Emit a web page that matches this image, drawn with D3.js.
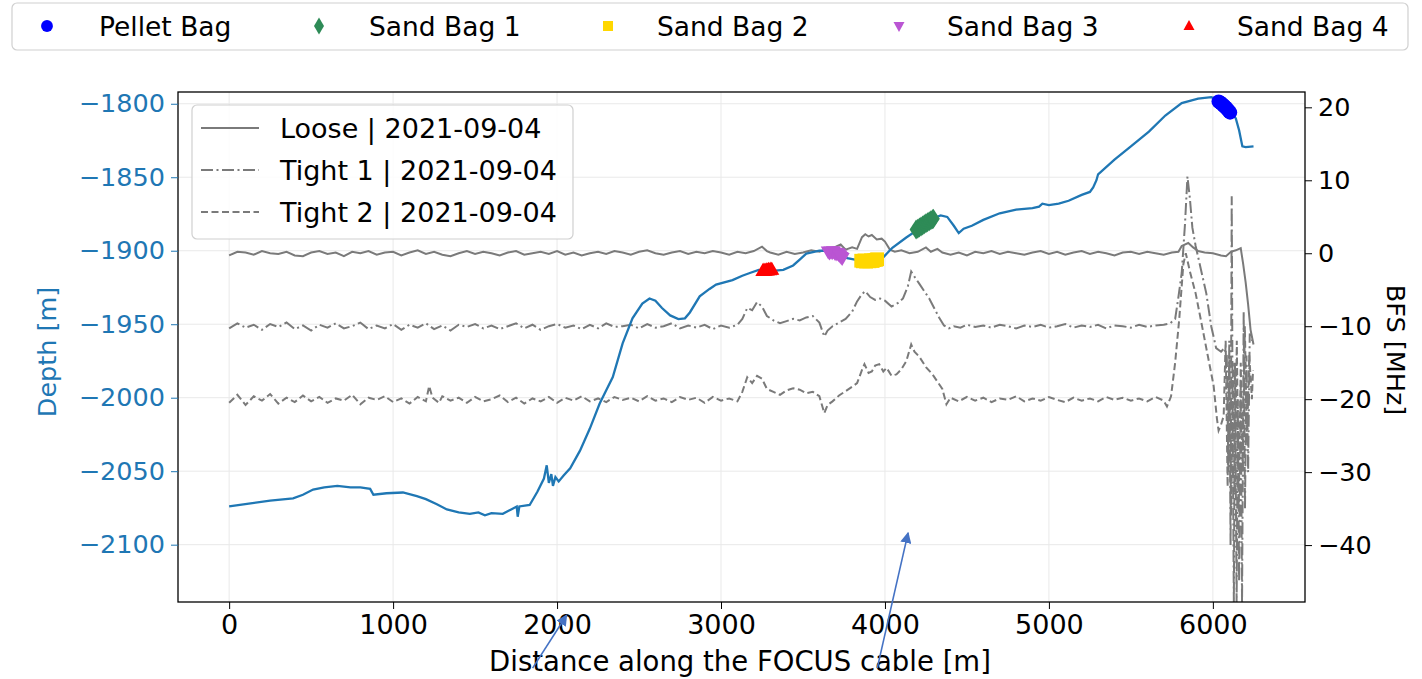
<!DOCTYPE html>
<html>
<head>
<meta charset="utf-8">
<script src="https://cdn.jsdelivr.net/npm/d3@7"></script>
<style>
  html, body { margin: 0; padding: 0; background: #fff; }
  svg { display: block; font-family: "DejaVu Sans", sans-serif; }
</style>
</head>
<body>
<svg id="chart" width="1422" height="679"></svg>
<script>
// ---------------- DATA ----------------
const xTicks = [0, 1000, 2000, 3000, 4000, 5000, 6000];
const depthTicks = [-1800, -1850, -1900, -1950, -2000, -2050, -2100];
const bfsTicks = [20, 10, 0, -10, -20, -30, -40];

// Depth profile of the cable [distance m, depth m]
const depthProfile = [
  [0,-2074],[120,-2072],[250,-2070],[390,-2068.5],[450,-2066],[512,-2062.5],[580,-2061],[660,-2060],
  [740,-2061],[800,-2061],[860,-2062],[880,-2066],[960,-2065],[1060,-2064.5],[1145,-2067],[1200,-2069],
  [1267,-2072.5],[1328,-2076],[1400,-2078],[1468,-2079],[1520,-2078],[1560,-2080],[1600,-2078.5],[1669,-2079],
  [1720,-2076],[1754,-2074],[1760,-2081],[1770,-2074],[1833,-2073],[1880,-2064],[1920,-2055],
  [1937,-2046],[1950,-2058],[1965,-2052],[1975,-2060],[1990,-2054],[2010,-2057],[2040,-2053],[2080,-2048],
  [2140,-2036],[2200,-2021],[2260,-2004],[2300,-1995],[2340,-1986],[2400,-1963],[2460,-1946],[2520,-1936],
  [2564,-1932.5],[2600,-1934],[2640,-1939],[2690,-1944],[2740,-1946.5],[2780,-1946],[2810,-1942],[2870,-1931],
  [2930,-1926],[2970,-1923],[3070,-1920],[3130,-1917],[3180,-1915],[3230,-1913],[3280,-1914],[3330,-1913.5],
  [3380,-1913],[3440,-1910],[3480,-1906],[3520,-1902],[3560,-1901],[3600,-1900],[3680,-1900],[3720,-1902],
  [3770,-1905],[3840,-1906.5],[3920,-1906],[3985,-1905],[4045,-1898],[4130,-1891],[4210,-1885],[4290,-1878],
  [4340,-1876],[4380,-1877],[4420,-1883],[4450,-1888],[4480,-1885],[4530,-1883],[4600,-1879],[4700,-1874.5],
  [4800,-1872],[4900,-1871],[4940,-1870],[4960,-1868],[5000,-1869],[5060,-1868],[5120,-1866],[5200,-1862],
  [5250,-1860],[5270,-1857],[5290,-1852],[5300,-1848],[5400,-1838],[5500,-1829],[5610,-1819],[5710,-1808],
  [5810,-1799.5],[5910,-1796.5],[5990,-1795.5],[6050,-1798],[6100,-1803],[6140,-1810],[6160,-1818],[6180,-1829],
  [6200,-1829.5],[6248,-1829]
];

// Bag positions [distance m, depth m]
const pelletBag = [[6035,-1798.5],[6042,-1799],[6049,-1799.6],[6056,-1800.2],[6063,-1800.9],[6070,-1801.6],
  [6077,-1802.4],[6084,-1803.2],[6091,-1804.1],[6098,-1805],[6105,-1806]];
const sandBag1 = [[4190,-1885.5],[4200,-1885],[4210,-1884.2],[4220,-1883.5],[4230,-1882.8],[4240,-1882],
  [4250,-1881.3],[4260,-1880.6],[4270,-1879.9],[4280,-1879.2],[4290,-1878.5],[4295,-1878.2]];
const sandBag2 = [[3855,-1906.8],[3865,-1907.2],[3875,-1906.6],[3885,-1907.4],[3895,-1906.9],[3905,-1907.2],
  [3915,-1906.5],[3925,-1907],[3935,-1906.4],[3945,-1906.2],[3952,-1905.8]];
const sandBag3 = [[3654,-1900.5],[3662,-1901.2],[3670,-1900.6],[3678,-1901],[3686,-1900.4],[3694,-1901.3],
  [3702,-1901.8],[3710,-1901.5],[3718,-1902.4],[3726,-1903.2],[3733,-1904.2],[3739,-1905]];
const sandBag4 = [[3255,-1913.8],[3262,-1913.4],[3269,-1913.6],[3276,-1913.2],[3283,-1913.4],[3290,-1913],
  [3297,-1913.2],[3304,-1912.8],[3310,-1913]];

// BFS traces [distance m, BFS MHz]
const looseBFS = [
  [0,-0.3],[50,0.2],[100,0.1],[150,-0.2],[200,0.3],[250,0.0],[300,-0.1],[350,0.2],[400,-0.3],[450,-0.4],
  [500,0.1],[550,0.3],[600,-0.1],[650,0.1],[700,-0.4],[750,0.2],[800,0.0],[850,0.3],[900,-0.2],[950,0.1],
  [1000,0.2],[1050,-0.3],[1100,0.1],[1150,0.4],[1200,-0.1],[1250,0.2],[1300,-0.2],[1350,-0.4],[1400,0.0],
  [1450,0.3],[1500,-0.1],[1550,0.2],[1600,0.0],[1650,-0.3],[1700,0.1],[1750,0.3],[1800,-0.2],[1850,0.0],
  [1900,0.2],[1950,-0.1],[2000,0.3],[2050,-0.2],[2100,0.1],[2150,-0.3],[2200,0.0],[2250,0.2],[2300,-0.1],
  [2350,0.3],[2400,0.1],[2450,-0.2],[2500,0.2],[2550,0.4],[2600,0.0],[2650,-0.2],[2700,0.1],[2750,0.3],
  [2800,-0.1],[2850,0.2],[2900,0.0],[2950,0.3],[3000,0.1],[3050,-0.2],[3100,0.2],[3150,0.0],[3200,0.3],
  [3250,0.9],[3280,0.3],[3300,0.1],[3350,-0.2],[3400,0.2],[3450,-0.1],[3500,0.1],[3550,0.4],[3600,0.2],
  [3650,0.6],[3700,0.9],[3730,1.2],[3760,0.5],[3800,0.8],[3830,0.6],[3860,2.2],[3880,2.6],[3900,2.3],
  [3920,2.5],[3950,1.9],[3980,2.0],[4000,1.6],[4030,0.5],[4060,0.2],[4100,0.4],[4150,0.0],[4200,0.2],
  [4250,0.8],[4280,0.2],[4320,0.6],[4350,0.1],[4400,-0.2],[4450,0.1],[4500,-0.3],[4550,0.2],[4600,0.0],
  [4650,0.3],[4700,-0.1],[4750,0.2],[4800,0.0],[4850,-0.2],[4900,0.1],[4950,0.3],[5000,-0.1],[5050,0.2],
  [5100,-0.2],[5150,0.1],[5200,0.3],[5250,-0.1],[5300,0.2],[5350,0.0],[5400,-0.3],[5450,0.1],[5500,0.2],
  [5550,-0.1],[5600,0.2],[5650,0.0],[5700,-0.2],[5750,0.1],[5790,0.2],[5810,1.0],[5850,1.4],[5880,0.8],
  [5910,0.3],[5950,0.1],[6000,0.0],[6050,-0.3],[6080,-0.4],[6110,0.2],[6140,0.4],[6170,0.7],[6185,-1.5],
  [6200,-4],[6215,-7],[6230,-10.5],[6248,-12.5]
];
const tight1BFS = [
  [0,-10.3],[50,-9.6],[100,-10.2],[150,-9.8],[200,-10.5],[250,-9.7],[300,-10.1],[350,-9.5],[400,-10.4],
  [450,-9.9],[500,-10.6],[550,-9.8],[600,-10.2],[650,-9.6],[700,-10.3],[750,-10.0],[800,-9.5],[850,-10.4],
  [900,-9.9],[950,-10.3],[1000,-9.7],[1050,-10.5],[1100,-9.8],[1150,-10.2],[1200,-9.6],[1250,-10.4],
  [1300,-9.9],[1350,-10.6],[1400,-9.8],[1450,-10.1],[1500,-9.7],[1550,-10.3],[1600,-9.9],[1650,-10.4],
  [1700,-10.0],[1750,-9.6],[1800,-10.3],[1850,-9.8],[1900,-10.5],[1950,-10.0],[2000,-9.7],[2050,-10.2],
  [2100,-9.9],[2150,-10.4],[2200,-9.8],[2250,-10.3],[2300,-9.6],[2350,-10.1],[2400,-10.0],[2450,-9.8],
  [2500,-10.3],[2550,-9.7],[2600,-10.2],[2650,-10.0],[2700,-9.6],[2750,-10.3],[2800,-9.9],[2850,-10.2],
  [2900,-9.8],[2950,-10.4],[3000,-9.9],[3050,-10.2],[3100,-9.8],[3130,-9.0],[3160,-7.5],[3190,-7.8],
  [3220,-6.7],[3250,-7.3],[3280,-8.6],[3320,-9.2],[3360,-9.6],[3400,-9.3],[3440,-9.0],[3480,-9.2],
  [3520,-8.8],[3560,-8.6],[3600,-9.5],[3630,-11.4],[3650,-10.6],[3680,-10.0],[3720,-9.5],[3760,-9.0],
  [3800,-8.0],[3830,-6.6],[3860,-5.6],[3880,-5.2],[3910,-6.0],[3940,-6.4],[3970,-6.2],[4000,-6.5],
  [4040,-7.3],[4080,-6.8],[4110,-6.2],[4140,-4.5],[4160,-2.5],[4180,-3.2],[4210,-4.2],[4240,-5.2],
  [4270,-6.2],[4300,-7.5],[4330,-8.8],[4360,-9.9],[4390,-10.3],[4420,-10.0],[4460,-10.2],[4500,-9.8],
  [4550,-10.1],[4600,-9.9],[4650,-10.2],[4700,-9.8],[4750,-10.0],[4800,-10.3],[4850,-9.9],[4900,-10.1],
  [4950,-9.8],[5000,-10.2],[5050,-10.0],[5100,-9.7],[5150,-10.2],[5200,-9.9],[5250,-10.1],[5300,-9.8],
  [5350,-10.3],[5400,-9.9],[5450,-10.0],[5500,-10.2],[5550,-9.8],[5600,-10.1],[5650,-9.9],[5700,-9.8],
  [5740,-9.6],[5770,-9.0],[5790,-6.0],[5810,-2.7],[5830,4.0],[5845,10.5],[5860,7.5],[5875,3.5],[5895,1.0],
  [5915,-1.0],[5940,-3.5],[5960,-5.5],[5990,-10.0],[6020,-13.0],[6050,-13.5],[6070,-13.0],[6085,-14],
  [6095,-30],[6100,-12],[6108,-40],[6115,7.8],[6120,-20],[6128,-48],[6135,-15],[6145,-48],[6152,-20],
  [6160,-45],[6170,-18],[6178,-48],[6188,-8],[6196,-35],[6205,-14],[6215,-30],[6225,-11],[6240,-12]
];
const tight2BFS = [
  [0,-20.5],[50,-19.4],[100,-20.8],[150,-19.6],[200,-20.2],[250,-19.3],[300,-20.6],[350,-19.8],[400,-20.4],
  [450,-19.5],[500,-20.3],[550,-19.7],[600,-20.5],[650,-19.9],[700,-20.2],[750,-19.4],[800,-20.7],[850,-19.8],
  [900,-20.1],[950,-19.6],[1000,-20.4],[1050,-19.9],[1100,-20.6],[1150,-19.7],[1200,-20.3],[1220,-18.2],
  [1240,-19.8],[1280,-20.5],[1300,-19.6],[1350,-20.2],[1400,-19.8],[1450,-20.5],[1500,-19.7],[1550,-20.3],
  [1600,-20.0],[1650,-19.5],[1700,-20.4],[1750,-19.8],[1800,-20.6],[1850,-19.9],[1900,-20.3],[1950,-19.7],
  [2000,-20.5],[2050,-19.8],[2100,-20.2],[2150,-19.6],[2200,-20.3],[2250,-19.9],[2300,-20.4],[2350,-19.7],
  [2400,-20.1],[2450,-19.8],[2500,-20.3],[2550,-19.6],[2600,-20.2],[2650,-19.9],[2700,-20.4],[2750,-19.7],
  [2800,-20.1],[2850,-19.8],[2900,-20.5],[2950,-19.7],[3000,-20.2],[3050,-19.9],[3100,-20.3],[3130,-19.0],
  [3160,-17.0],[3190,-17.8],[3220,-16.8],[3250,-17.2],[3280,-18.6],[3320,-19.0],[3360,-19.4],[3400,-18.8],
  [3440,-18.5],[3480,-18.7],[3520,-19.2],[3560,-19.0],[3600,-19.6],[3630,-21.9],[3650,-20.8],[3680,-20.3],
  [3720,-19.5],[3760,-18.9],[3800,-18.3],[3830,-17.8],[3860,-16.0],[3875,-15.2],[3900,-16.4],[3920,-16.2],
  [3940,-15.4],[3965,-15.2],[3990,-16.2],[4010,-15.7],[4040,-16.8],[4070,-16.6],[4100,-15.9],[4130,-14.8],
  [4160,-12.5],[4180,-13.5],[4210,-14.2],[4250,-15.6],[4290,-16.6],[4320,-17.6],[4350,-18.6],[4375,-20.7],
  [4400,-19.8],[4450,-20.3],[4500,-19.7],[4550,-20.2],[4600,-19.8],[4650,-20.4],[4700,-19.9],[4750,-20.1],
  [4800,-19.6],[4850,-20.3],[4900,-19.9],[4950,-20.2],[5000,-19.7],[5050,-20.1],[5100,-20.4],[5150,-19.8],
  [5200,-20.2],[5250,-19.9],[5300,-20.3],[5350,-19.7],[5400,-20.1],[5450,-19.8],[5500,-20.2],[5550,-19.9],
  [5600,-20.3],[5650,-19.7],[5700,-20.2],[5720,-21.0],[5745,-19.6],[5770,-15.0],[5795,-9.0],[5820,-1.5],
  [5835,0.0],[5860,-2.5],[5895,-5.5],[5930,-9.5],[5960,-13.0],[6005,-18.2],[6025,-22.7],[6035,-24.3],
  [6050,-23.5],[6066,-22.3],[6078,-12],[6090,-32],[6100,-14],[6112,-36],[6122,-15],[6135,-33],[6146,-12],
  [6158,-35],[6170,-15],[6182,-30],[6195,-10],[6208,-26],[6222,-14],[6238,-20],[6245,-16]
];

const bagNames = ["Pellet Bag", "Sand Bag 1", "Sand Bag 2", "Sand Bag 3", "Sand Bag 4"];
const bfsNames = ["Loose | 2021-09-04", "Tight 1 | 2021-09-04", "Tight 2 | 2021-09-04"];

// annotation arrows: [tailDist, tailDepth, headDist, headDepth]
const arrows = [[1851, -2184, 2058, -2148], [3953, -2184, 4141, -2092]];

// ---------------- CHART ----------------
const svg = d3.select("#chart");
const L = 178, R = 1305, T = 92, B = 602;

const x = d3.scaleLinear().domain([-312, 6562]).range([L, R]);
const yL = d3.scaleLinear().domain([-2139, -1792]).range([B, T]);
const yR = d3.scaleLinear().domain([-47.8, 22.1]).range([B, T]);

const blue = "#1f77b4";
const grayC = "#7a7a7a";

svg.append("defs").append("clipPath").attr("id", "clip")
  .append("rect").attr("x", L).attr("y", T).attr("width", R - L).attr("height", B - T);

// grid
const grid = svg.append("g");
grid.selectAll(".gx").data(xTicks).join("line")
  .attr("x1", d => x(d)).attr("x2", d => x(d)).attr("y1", T).attr("y2", B)
  .attr("stroke", "#e9e9e9").attr("stroke-width", 1);
grid.selectAll(".gy").data(depthTicks).join("line")
  .attr("y1", d => yL(d)).attr("y2", d => yL(d)).attr("x1", L).attr("x2", R)
  .attr("stroke", "#e9e9e9").attr("stroke-width", 1);

// BFS lines
const plot = svg.append("g").attr("clip-path", "url(#clip)");
const lineR = d3.line().x(d => x(d[0])).y(d => yR(d[1]));
const bfsSeries = [
  {data: looseBFS, dash: null},
  {data: tight1BFS, dash: "12,3.5,2,3.5"},
  {data: tight2BFS, dash: "7,3.5"}
];
bfsSeries.forEach(s => {
  plot.append("path").attr("d", lineR(s.data)).attr("fill", "none")
    .attr("stroke", grayC).attr("stroke-width", 2)
    .attr("stroke-dasharray", s.dash);
});

// depth line
const lineL = d3.line().x(d => x(d[0])).y(d => yL(d[1]));
plot.append("path").attr("d", lineL(depthProfile)).attr("fill", "none")
  .attr("stroke", blue).attr("stroke-width", 2.3);

// markers
function thinDiamond(w, h) { return `M0,${-h}L${w},0L0,${h}L${-w},0Z`; }
const markerDefs = [
  {data: pelletBag, color: "#0000ff", path: d3.symbol(d3.symbolCircle, 160)()},
  {data: sandBag1, color: "#2e8b57", path: thinDiamond(6.5, 10)},
  {data: sandBag2, color: "#ffd700", path: d3.symbol(d3.symbolSquare, 190)()},
  {data: sandBag3, color: "#ba55d3", path: "M-7.5,-5L7.5,-5L0,8Z"},
  {data: sandBag4, color: "#ff0000", path: "M-7.5,5L7.5,5L0,-8Z"}
];
markerDefs.forEach(m => {
  plot.append("g").selectAll("path").data(m.data).join("path")
    .attr("d", m.path).attr("fill", m.color)
    .attr("transform", d => `translate(${x(d[0])},${yL(d[1])})`);
});

// frame
svg.append("rect").attr("x", L).attr("y", T).attr("width", R - L).attr("height", B - T)
  .attr("fill", "none").attr("stroke", "#000").attr("stroke-width", 1.3);

// axes
const fmt = d3.format("");
const axB = svg.append("g").attr("transform", `translate(0,${B})`)
  .call(d3.axisBottom(x).tickValues(xTicks).tickSize(7).tickPadding(6).tickFormat(fmt));
const axL = svg.append("g").attr("transform", `translate(${L},0)`)
  .call(d3.axisLeft(yL).tickValues(depthTicks).tickSize(7).tickPadding(6).tickFormat(fmt));
const axR = svg.append("g").attr("transform", `translate(${R},0)`)
  .call(d3.axisRight(yR).tickValues(bfsTicks).tickSize(7).tickPadding(6).tickFormat(fmt));
[axB, axL, axR].forEach(a => {
  a.select(".domain").remove();
  a.selectAll("text").attr("font-size", 25.5).attr("font-family", "DejaVu Sans");
});
axB.selectAll("text").attr("font-size", 27);
axB.selectAll("line").attr("stroke", "#000");
axB.selectAll("text").attr("fill", "#000");
axL.selectAll("line").attr("stroke", blue);
axL.selectAll("text").attr("fill", blue);
axR.selectAll("line").attr("stroke", "#000");
axR.selectAll("text").attr("fill", "#000");

// axis labels
svg.append("text").attr("x", 740).attr("y", 671).attr("text-anchor", "middle")
  .attr("font-size", 27.5).attr("fill", "#000").text("Distance along the FOCUS cable [m]");
svg.append("text").attr("transform", `translate(56,${(T + B) / 2 + 5}) rotate(-90)`)
  .attr("text-anchor", "middle").attr("font-size", 25.5).attr("fill", blue).text("Depth [m]");
svg.append("text").attr("transform", `translate(1387,${(T + B) / 2 + 3}) rotate(90)`)
  .attr("text-anchor", "middle").attr("font-size", 25.5).attr("fill", "#000").text("BFS [MHz]");

// inner legend (BFS)
const lg = svg.append("g");
lg.append("rect").attr("x", 192).attr("y", 105).attr("width", 381).attr("height", 134).attr("rx", 5)
  .attr("fill", "rgba(255,255,255,0.85)").attr("stroke", "#d0d0d0").attr("stroke-width", 1.2);
bfsNames.forEach((name, i) => {
  const cy = 128 + i * 42;
  lg.append("line").attr("x1", 201).attr("x2", 259).attr("y1", cy).attr("y2", cy)
    .attr("stroke", grayC).attr("stroke-width", 2).attr("stroke-dasharray", bfsSeries[i].dash);
  lg.append("text").attr("x", 280).attr("y", cy + 9.5).attr("font-size", 27).attr("fill", "#000").text(name);
});

// top legend (bags)
const tg = svg.append("g");
tg.append("rect").attr("x", 12).attr("y", 3).attr("width", 1396).attr("height", 47).attr("rx", 5)
  .attr("fill", "#fff").attr("stroke", "#d0d0d0").attr("stroke-width", 1.2);
const legMarkX = [47, 319, 608, 899, 1189];
const legTextX = [99, 369, 657, 947, 1237];
const legPaths = [
  d3.symbol(d3.symbolCircle, 110)(), thinDiamond(5, 8.5), d3.symbol(d3.symbolSquare, 100)(),
  "M-5.5,-4L5.5,-4L0,6Z", "M-5.5,4L5.5,4L0,-6Z"
];
bagNames.forEach((name, i) => {
  tg.append("path").attr("d", legPaths[i]).attr("fill", markerDefs[i].color)
    .attr("transform", `translate(${legMarkX[i]},26)`);
  tg.append("text").attr("x", legTextX[i]).attr("y", 35.5).attr("font-size", 26.5).attr("fill", "#000").text(name);
});

// annotation arrows
const defs = svg.select("defs");
defs.append("marker").attr("id", "ah").attr("viewBox", "0 0 10 10").attr("refX", 9).attr("refY", 5)
  .attr("markerWidth", 7).attr("markerHeight", 7).attr("orient", "auto")
  .append("path").attr("d", "M0,0L10,5L0,10Z").attr("fill", "#4472c4");
svg.append("g").selectAll("line").data(arrows).join("line")
  .attr("x1", d => x(d[0])).attr("y1", d => yL(d[1]))
  .attr("x2", d => x(d[2])).attr("y2", d => yL(d[3]))
  .attr("stroke", "#4472c4").attr("stroke-width", 1.6).attr("marker-end", "url(#ah)");
</script>
</body>
</html>
